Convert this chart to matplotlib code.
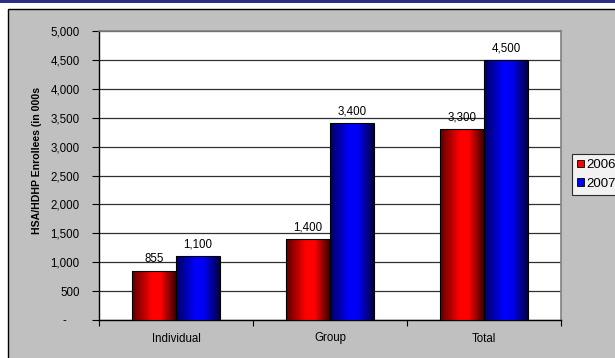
import matplotlib
matplotlib.use("Agg")
import matplotlib.pyplot as plt
import numpy as np
from matplotlib.patches import Rectangle
from matplotlib.colors import LinearSegmentedColormap
from matplotlib.ticker import FuncFormatter

plt.rcParams['font.family'] = ['Liberation Sans', 'DejaVu Sans']

categories = ['Individual', 'Group', 'Total']
enrollees_2006 = [855, 1400, 3300]
enrollees_2007 = [1100, 3400, 4500]
series_names = ['2006', '2007']

W, H = 615, 358
fig = plt.figure(figsize=(W / 100, H / 100), dpi=100)
fig.patch.set_facecolor('white')

# navy rule across the top and the gray chart panel behind the axes
fig.add_artist(Rectangle((0, 1 - 3 / H), 1, 3 / H, transform=fig.transFigure,
                         facecolor='#2b2f86', edgecolor='none', zorder=-2))
fig.add_artist(Rectangle((8 / W, -0.01), 1.0, 1 - 9 / H + 0.01,
                         transform=fig.transFigure, facecolor='#c0c0c0',
                         edgecolor='black', linewidth=1.0, zorder=-2))

ax = fig.add_axes([99 / W, (H - 320) / H, (561 - 99) / W, (320 - 31) / H])
ax.set_facecolor('white')

red_cmap = LinearSegmentedColormap.from_list(
    'red_bar', [(0, '#5a0000'), (0.45, '#ff0000'), (0.65, '#ff0000'), (1, '#3a0000')])
blue_cmap = LinearSegmentedColormap.from_list(
    'blue_bar', [(0, '#000060'), (0.45, '#0000ff'), (0.65, '#0000f0'), (1, '#000040')])

x = np.arange(len(categories))
width = 0.285
grad = np.linspace(0, 1, 256).reshape(1, -1)
fs = 8.3

for vals, offset, cmap in [(enrollees_2006, -width / 2, red_cmap),
                           (enrollees_2007, width / 2, blue_cmap)]:
    bars = ax.bar(x + offset, vals, width, facecolor='none', edgecolor='black',
                  linewidth=0.8, zorder=4)
    for b, v in zip(bars, vals):
        im = ax.imshow(grad, cmap=cmap, aspect='auto', zorder=3,
                       extent=(b.get_x(), b.get_x() + b.get_width(), 0, v))
        im.set_clip_path(b)
        ax.annotate(f'{v:,}', (b.get_x() + b.get_width() / 2, v),
                    xytext=(0, 4), textcoords='offset points',
                    ha='center', va='bottom', fontsize=fs, color='black')

ax.set_xlim(-0.5, 2.5)
ax.set_ylim(0, 5000)
ax.set_yticks(np.arange(0, 5001, 500))
ax.yaxis.set_major_formatter(FuncFormatter(lambda v, p: '-    ' if v == 0 else f'{int(v):,}'))
ax.set_xticks(x)
ax.set_xticklabels(categories)
ax.set_xticks([-0.5, 0.5, 1.5, 2.5], minor=True)
ax.tick_params(axis='x', which='major', length=0, pad=9, labelsize=fs)
ax.tick_params(axis='x', which='minor', length=4, direction='out', width=0.8)
ax.tick_params(axis='y', length=5, width=0.8, direction='out', pad=9, labelsize=fs)

ax.grid(axis='y', color='#303030', linewidth=0.9, zorder=1)
ax.set_axisbelow(True)
for s in ['left', 'bottom']:
    ax.spines[s].set_color('black')
    ax.spines[s].set_linewidth(1.0)
for s in ['top', 'right']:
    ax.spines[s].set_color('#808080')
    ax.spines[s].set_linewidth(1.2)

fig.text(37 / W, 1 - 160 / H, 'HSA/HDHP Enrollees (in 000s', rotation=90,
         ha='center', va='center', fontsize=7.6, fontweight='bold')

handles = [Rectangle((0, 0), 1, 1, facecolor='#ff0000', edgecolor='black', linewidth=0.6),
           Rectangle((0, 0), 1, 1, facecolor='#0000ff', edgecolor='black', linewidth=0.6)]
leg = fig.legend(handles, series_names, loc='upper left',
                 bbox_to_anchor=(572 / W, 1 - 154 / H), fontsize=9.5,
                 frameon=True, fancybox=False, edgecolor='black',
                 handlelength=0.5, handleheight=0.5, handletextpad=0.2,
                 borderpad=0.4, labelspacing=0.5, borderaxespad=0)
leg.get_frame().set_linewidth(0.8)
leg.get_frame().set_facecolor('white')

fig.savefig('out.png', dpi=100)
